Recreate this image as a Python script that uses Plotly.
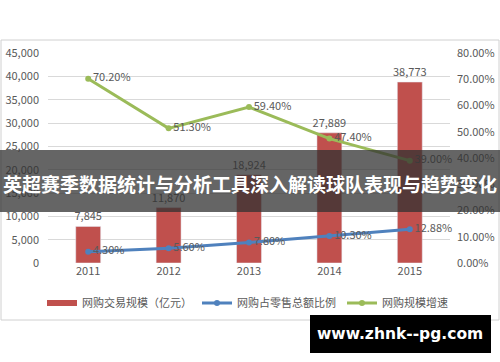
import plotly.graph_objects as go

years = ["2011", "2012", "2013", "2014", "2015"]
scale = [7845, 11870, 18924, 27889, 38773]
share = [4.30, 5.60, 7.80, 10.30, 12.88]
growth = [70.20, 51.30, 59.40, 47.40, 39.00]

left_ticks = list(range(0, 45001, 5000))
right_ticks = list(range(0, 81, 10))

FONT = "Noto Sans CJK SC, Noto Sans, sans-serif"
GRAY = "#595959"
RED, BLUE, GREEN = "#C0504D", "#4F81BD", "#9BBB59"

fig = go.Figure()
fig.add_trace(go.Bar(
    x=years, y=scale, name="网购交易规模（亿元）", showlegend=False,
    marker_color=RED, width=0.31,
    text=[f"{v:,}" for v in scale], textposition="outside",
    constraintext="none",
    textfont=dict(size=11, color=GRAY), cliponaxis=False,
))
# legend proxy for the bar series (wide rectangle swatch)
fig.add_trace(go.Scatter(
    x=[None], y=[None], name="网购交易规模（亿元）", legend="legend",
    mode="lines", line=dict(color=RED, width=6),
))
fig.add_trace(go.Scatter(
    x=years, y=share, name="网购占零售总额比例", yaxis="y2", legend="legend2",
    mode="lines+markers+text", line=dict(color=BLUE, width=3),
    marker=dict(size=6, color=BLUE),
    text=[f"{v:.2f}%" for v in share], textposition="middle right",
    textfont=dict(size=11, color=GRAY), cliponaxis=False,
))
fig.add_trace(go.Scatter(
    x=years, y=growth, name="网购规模增速", yaxis="y2", legend="legend3",
    mode="lines+markers+text", line=dict(color=GREEN, width=3),
    marker=dict(size=6, color=GREEN),
    text=[f"{v:.2f}%" for v in growth], textposition="middle right",
    textfont=dict(size=11, color=GRAY), cliponaxis=False,
))

LY = (362 - 303) / 362
def leg(x):
    return dict(orientation="h", xref="container", yref="container",
                x=x, xanchor="left", y=LY, yanchor="middle",
                font=dict(size=11, color=GRAY), bgcolor="rgba(0,0,0,0)",
                borderwidth=0)

fig.update_layout(
    width=500, height=362,
    margin=dict(l=48, r=50, t=53, b=99, autoexpand=False),
    paper_bgcolor="white", plot_bgcolor="white",
    font=dict(family=FONT, size=11, color=GRAY),
    showlegend=True,
    legend=leg((81 - 39) / 500),
    legend2=leg((236 - 39) / 500),
    legend3=leg((381 - 39) / 500),
    xaxis=dict(type="category", showgrid=False, showline=False, automargin=False,
               ticks="", tickfont=dict(size=11, color=GRAY)),
    yaxis=dict(range=[0, 45000], tickvals=left_ticks, automargin=False,
               ticktext=[f"{v:,}" for v in left_ticks],
               showgrid=True, gridcolor="#D9D9D9", gridwidth=1,
               zeroline=False, showline=False, ticks="", ticklabelstandoff=8,
               tickfont=dict(size=11, color=GRAY)),
    yaxis2=dict(range=[0, 80], tickvals=right_ticks, overlaying="y", side="right",
                ticktext=[f"{v:.2f}%" for v in right_ticks], automargin=False,
                showgrid=False, zeroline=False, showline=False, ticks="",
                ticklabelstandoff=6,
                tickfont=dict(size=11, color=GRAY)),
    bargap=0.69,
)

W, H = 402.0, 210.0
def px(x):
    return (x - 48) / W
def py(y):
    return (263 - y) / H

fig.add_shape(type="rect", xref="paper", yref="paper",
              x0=px(1), x1=px(499), y0=py(320), y1=py(40),
              line=dict(color="#D0D0D0", width=1), fillcolor="rgba(0,0,0,0)",
              layer="below")
fig.add_shape(type="rect", xref="paper", yref="paper",
              x0=px(0), x1=px(500), y0=py(212), y1=py(150),
              line=dict(width=0), fillcolor="rgba(50,50,50,0.75)", layer="above")
fig.add_annotation(xref="paper", yref="paper", x=px(250), y=py(183),
                   text="<b>英超赛季数据统计与分析工具深入解读球队表现与趋势变化</b>",
                   showarrow=False, font=dict(family="Noto Sans CJK SC", size=19, color="white"),
                   xanchor="center", yanchor="middle")
fig.add_shape(type="rect", xref="paper", yref="paper",
              x0=px(310), x1=px(491), y0=py(353), y1=py(315),
              line=dict(width=0), fillcolor="black", layer="above")
fig.add_annotation(xref="paper", yref="paper", x=px(400), y=py(334),
                   text="<b>www.zhnk--pg.com</b>",
                   showarrow=False, font=dict(family="DejaVu Sans", size=15.5, color="white"),
                   xanchor="center", yanchor="middle")

fig.write_html("out.html", config={"displayModeBar": False},
               post_script="document.body.style.margin='0';document.body.style.overflow='hidden';")
